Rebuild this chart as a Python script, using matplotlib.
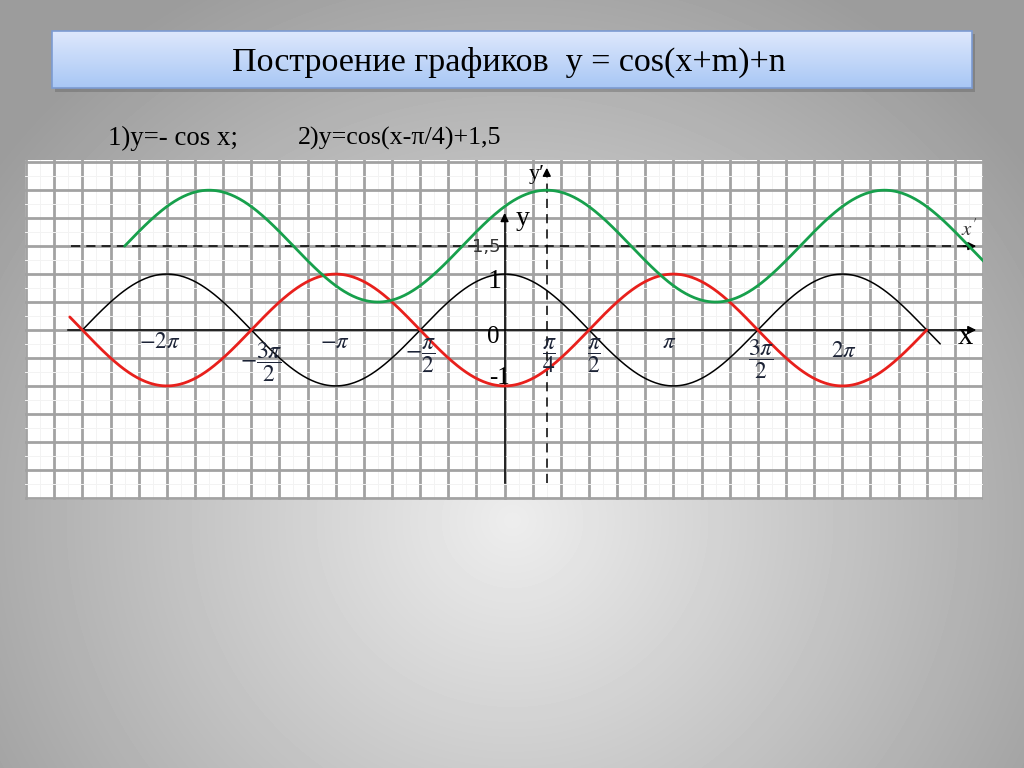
import numpy as np
import matplotlib.pyplot as plt
from matplotlib.patches import Rectangle

plt.rcParams["mathtext.fontset"] = "stix"
SERIF = "Liberation Serif"

# curves, x in units of pi: y = sign*cos(pi*(x + shift)) + offset
curve_names = ["y=cos x", "y=-cos x", "y=cos(x-pi/4)+1.5"]
curve_x_from = [-2.5, -2.575, -2.25]
curve_x_to = [2.58, 2.5, 2.84]
curve_sign = [1, -1, 1]
curve_shift = [0.0, 0.0, -0.25]
curve_offset = [0.0, 0.0, 1.5]
curve_colors = ["black", "#e8201c", "#17a04c"]
curve_widths = [1.1, 2.0, 2.0]

# x tick labels (units of pi) and their text
xlab_pos = [-2.04, -1.44, -1.006, -0.5, 0.266, 0.53, 0.976, 1.52, 2.01]
xlab_y = [-0.21, -0.58, -0.21, -0.46, -0.46, -0.46, -0.21, -0.52, -0.36]
xlab_txt = [r"$-2\pi$", r"$-\dfrac{3\pi}{2}$", r"$-\pi$", r"$-\dfrac{\pi}{2}$",
            r"$\dfrac{\pi}{4}$", r"$\dfrac{\pi}{2}$", r"$\pi$",
            r"$\dfrac{3\pi}{2}$", r"$2\pi$"]

fig = plt.figure(figsize=(10.24, 7.68), dpi=100)

# slide background: radial grey gradient
bg = fig.add_axes([0, 0, 1, 1])
yy, xx = np.mgrid[0:768, 0:1024]
r = np.hypot(xx - 512, (yy - 520) * 1.05)
shade = 0.93 - 0.32 * np.clip(r / 640, 0, 1)
bg.imshow(shade, cmap="gray", vmin=0, vmax=1, extent=[0, 1024, 768, 0],
          aspect="auto", zorder=0)

# title box with blue gradient and shadow
bg.add_patch(Rectangle((55, 34), 920, 58, color="#555555", alpha=0.35, lw=0, zorder=1))
grad = np.linspace(0, 1, 60)[:, None] * np.ones((1, 10))
top = np.array([0.87, 0.91, 0.99])
bot = np.array([0.66, 0.78, 0.96])
rgb = top[None, None, :] * (1 - grad[..., None]) + bot[None, None, :] * grad[..., None]
bg.imshow(rgb, extent=[52, 972, 88, 31], aspect="auto", zorder=2)
bg.add_patch(Rectangle((52, 31), 920, 57, fill=False, ec="#7c9bd2", lw=1.2, zorder=3))
bg.text(509, 62, "Построение графиков  y = cos(x+m)+n", ha="center", va="center",
        fontsize=24.5, family=SERIF, zorder=4)
bg.text(108, 138, "1)y=- cos x;", ha="left", va="center", fontsize=19.3, family=SERIF)
bg.text(298, 138, "2)y=cos(x-π/4)+1,5", ha="left", va="center", fontsize=18.7, family=SERIF)
bg.set_xlim(0, 1024)
bg.set_ylim(768, 0)
bg.axis("off")

# graph on grid paper
ax = fig.add_axes([25 / 1024, 268 / 768, 958 / 1024, 340 / 768])
ax.set_facecolor("white")
ax.set_xlim(-2.84, 2.83)
ax.set_ylim(-3.04, 3.04)
ax.set_xticks(np.arange(-17, 18) / 6)
ax.set_yticks(np.arange(-6, 7) / 2)
ax.set_xticks(np.arange(-34, 35) / 12, minor=True)
ax.set_yticks(np.arange(-12, 13) / 4, minor=True)
ax.grid(which="minor", color="#f3f3f3", lw=0.7)
ax.grid(which="major", color="#a2a2a2", lw=2.0)
ax.tick_params(which="both", length=0, labelbottom=False, labelleft=False)
for s in ax.spines.values():
    s.set_visible(False)

# axes, dashed helper axes
ax.plot([-2.586, 2.78], [0, 0], color="black", lw=1.1, zorder=3)
ax.plot([0, 0], [-2.73, 2.05], color="black", lw=1.1, zorder=3)
ax.plot([-2.57, 2.78], [1.5, 1.5], color="black", lw=1.1, ls=(0, (6, 4)), zorder=3)
ax.plot([0.25, 0.25], [-2.73, 2.85], color="black", lw=1.1, ls=(0, (6, 4)), zorder=3)
arrow = dict(arrowstyle="-|>", color="black", lw=1.1, mutation_scale=12)
ax.annotate("", xy=(2.81, 0), xytext=(2.7, 0), arrowprops=arrow, zorder=4)
ax.annotate("", xy=(2.81, 1.5), xytext=(2.7, 1.5), arrowprops=arrow, zorder=4)
ax.annotate("", xy=(0, 2.14), xytext=(0, 1.9), arrowprops=arrow, zorder=4)
ax.annotate("", xy=(0.25, 2.95), xytext=(0.25, 2.7), arrowprops=arrow, zorder=4)

for i in range(len(curve_names)):
    x = np.linspace(curve_x_from[i], curve_x_to[i], 600)
    y = curve_sign[i] * np.cos(np.pi * (x + curve_shift[i])) + curve_offset[i]
    ax.plot(x, y, color=curve_colors[i], lw=curve_widths[i], zorder=5,
            solid_capstyle="round")

for xp, yp, t in zip(xlab_pos, xlab_y, xlab_txt):
    fs = 17 if "frac" in t else 16.5
    ax.text(xp, yp, t, ha="center", va="center", fontsize=fs, color="#1c2336", zorder=6)

ax.text(-0.065, -0.13, "0", ha="center", va="center", fontsize=18, family=SERIF, zorder=6)
ax.text(-0.06, 0.86, "1", ha="center", va="center", fontsize=20, family=SERIF, zorder=6)
ax.text(-0.03, -0.86, "-1", ha="center", va="center", fontsize=18, family=SERIF, zorder=6)
ax.text(-0.11, 1.48, "1,5", ha="center", va="center", fontsize=13, color="#333333", zorder=6)
ax.text(0.107, 2.0, "y", ha="center", va="center", fontsize=20, family=SERIF, zorder=6)
ax.text(0.19, 2.78, "y′", ha="center", va="center", fontsize=16, family=SERIF, zorder=6)
ax.text(2.73, -0.12, "x", ha="center", va="center", fontsize=22, family=SERIF, zorder=6)
ax.text(2.75, 1.8, r"$x'$", ha="center", va="center", fontsize=15, color="#333333", zorder=6)

fig.savefig("out.png", dpi=100)
